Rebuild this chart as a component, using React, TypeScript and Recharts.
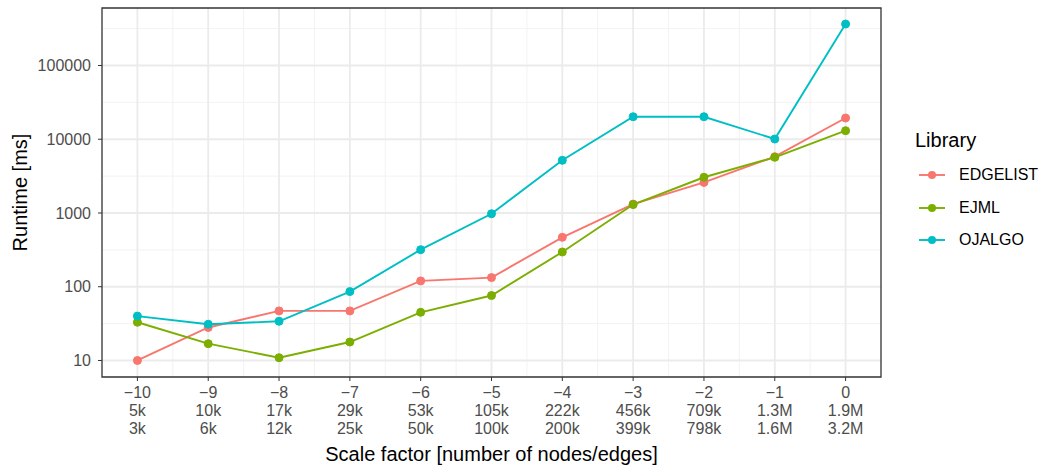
import React from "react";
import {
  LineChart,
  Line,
  XAxis,
  YAxis,
  CartesianGrid,
  ReferenceArea,
  Label,
} from "recharts";

// --- data ---
const scaleFactors = [-10, -9, -8, -7, -6, -5, -4, -3, -2, -1, 0];
const nodeLabels = ["5k", "10k", "17k", "29k", "53k", "105k", "222k", "456k", "709k", "1.3M", "1.9M"];
const edgeLabels = ["3k", "6k", "12k", "25k", "50k", "100k", "200k", "399k", "798k", "1.6M", "3.2M"];

const edgelist = [10, 28, 47, 47, 120, 133, 468, 1320, 2600, 5800, 19400];
const ejml = [33, 16.9, 10.9, 17.8, 45, 76, 296, 1300, 3050, 5690, 13060];
const ojalgo = [40, 31, 34, 86, 318, 977, 5180, 20200, 20200, 10070, 365000];

const yTicks = [10, 100, 1000, 10000, 100000];
const yMinor = [31.6, 316, 3162, 31623, 316228];
const xMinor = [-9.5, -8.5, -7.5, -6.5, -5.5, -4.5, -3.5, -2.5, -1.5, -0.5];
const xDomain = [-10.5, 0.5];
const yDomain = [5.97, 602000];

const series = [
  { key: "EDGELIST", color: "#F8766D", values: edgelist },
  { key: "EJML", color: "#7CAE00", values: ejml },
  { key: "OJALGO", color: "#00BFC4", values: ojalgo },
];

const data = scaleFactors.map((sf, i) => ({
  sf,
  EDGELIST: edgelist[i],
  EJML: ejml[i],
  OJALGO: ojalgo[i],
}));

const FONT = "'Liberation Sans', Arial, sans-serif";

// three-line tick: scale factor / nodes / edges
const XTick = ({ x, y, payload }: any) => {
  const i = scaleFactors.indexOf(payload.value);
  const sf = payload.value < 0 ? `\u2212${Math.abs(payload.value)}` : `${payload.value}`;
  return (
    <text x={x} y={y} textAnchor="middle" fill="#4D4D4D" fontSize={16} fontFamily={FONT}>
      <tspan x={x} dy={15}>{sf}</tspan>
      <tspan x={x} dy={18}>{nodeLabels[i]}</tspan>
      <tspan x={x} dy={18}>{edgeLabels[i]}</tspan>
    </text>
  );
};

const YTitle = ({ viewBox }: any) => {
  const cy = viewBox.y + viewBox.height / 2;
  return (
    <text
      x={20}
      y={cy}
      transform={`rotate(-90, 20, ${cy})`}
      textAnchor="middle"
      dominantBaseline="central"
      fontSize={20}
      fontFamily={FONT}
      fill="#000"
    >
      Runtime [ms]
    </text>
  );
};

export default function App() {
  return (
    <div style={{ position: "absolute", left: 0, top: 0, width: 1048, height: 467, background: "#fff", fontFamily: FONT }}>
      <LineChart width={1048} height={467} data={data} margin={{ top: 8, right: 167, left: 0, bottom: 0 }}>
        {/* minor grid */}
        <CartesianGrid horizontalValues={yMinor} verticalValues={xMinor} stroke="#F0F0F0" strokeWidth={0.9} />
        {/* major grid */}
        <CartesianGrid horizontalValues={yTicks} verticalValues={scaleFactors} stroke="#EBEBEB" strokeWidth={1.8} />

        <XAxis
          dataKey="sf"
          type="number"
          domain={xDomain}
          ticks={scaleFactors}
          allowDataOverflow
          axisLine={false}
          tickLine={{ stroke: "#333333" }}
          tickSize={4}
          height={90}
          tick={<XTick />}
          interval={0}
        >
          <Label value="Scale factor [number of nodes/edges]" position="insideBottom" offset={6} fontSize={20} fill="#000" fontFamily={FONT} />
        </XAxis>
        <YAxis
          scale="log"
          domain={yDomain}
          ticks={yTicks}
          allowDataOverflow
          axisLine={false}
          tickLine={{ stroke: "#333333" }}
          tickSize={4}
          tickMargin={7}
          width={102}
          interval={0}
          tick={{ fill: "#4D4D4D", fontSize: 16, fontFamily: FONT }}
        >
          <Label content={<YTitle />} />
        </YAxis>

        {series.map((s) => (
          <Line
            key={s.key}
            type="linear"
            dataKey={s.key}
            stroke={s.color}
            strokeWidth={1.9}
            dot={{ r: 4, fill: s.color, stroke: s.color, strokeWidth: 1 }}
            activeDot={false}
            isAnimationActive={false}
          />
        ))}

        {/* panel border */}
        <ReferenceArea x1={xDomain[0]} x2={xDomain[1]} y1={yDomain[0]} y2={yDomain[1]} fill="none" stroke="#333333" strokeWidth={1.3} ifOverflow="visible" />
      </LineChart>

      {/* legend */}
      <div style={{ position: "absolute", left: 915, top: 127, fontSize: 20, color: "#000", lineHeight: "26px" }}>Library</div>
      {series.map((s, i) => (
        <div key={s.key} style={{ position: "absolute", left: 918, top: 163 + i * 32.5, height: 24, display: "flex", alignItems: "center" }}>
          <svg width={28} height={24}>
            <line x1={1} y1={12} x2={27} y2={12} stroke={s.color} strokeWidth={1.9} />
            <circle cx={14} cy={12} r={4} fill={s.color} />
          </svg>
          <span style={{ marginLeft: 13, fontSize: 16, color: "#000" }}>{s.key}</span>
        </div>
      ))}
    </div>
  );
}
